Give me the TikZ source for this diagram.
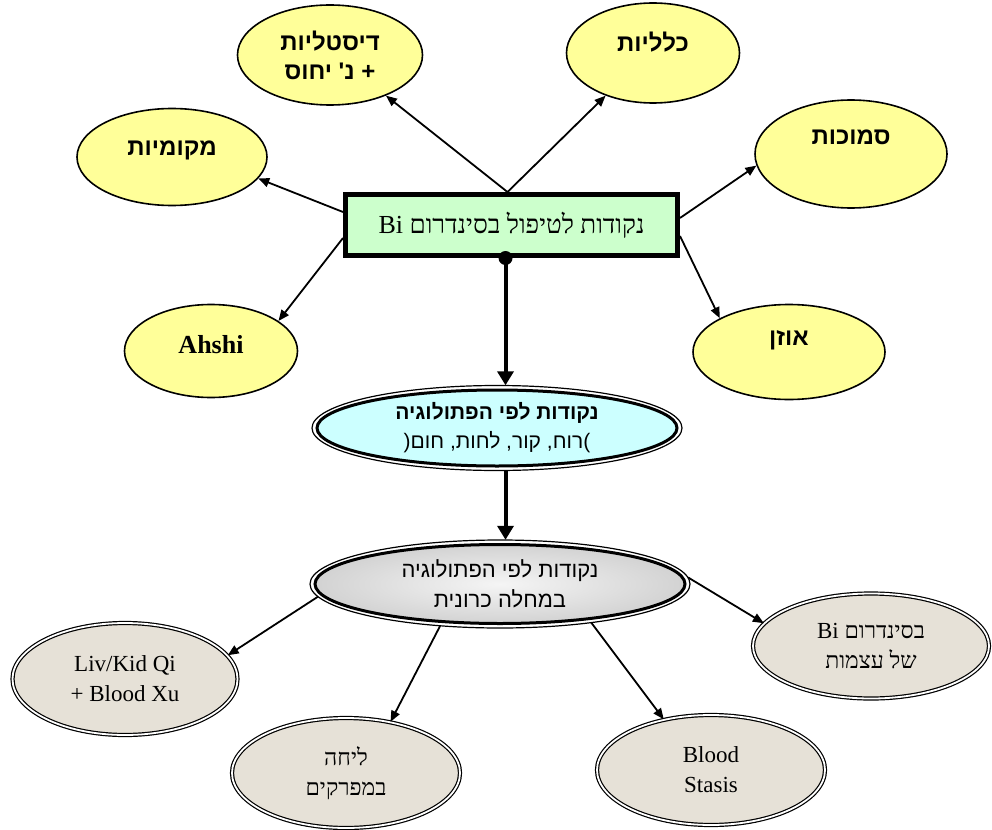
\documentclass[tikz,border=0pt]{standalone}
\usepackage{fontspec}
\setmainfont{Liberation Serif}
\newfontfamily\hebsans[Script=Hebrew]{Liberation Sans}
\newfontfamily\hebser[Script=Hebrew]{Liberation Serif}
\TeXXeTstate=1
\usetikzlibrary{arrows.meta,shapes.geometric,calc,backgrounds}
\definecolor{yel}{HTML}{FFFF99}
\definecolor{grn}{HTML}{CCFFCC}
\definecolor{cyn}{HTML}{CCFFFF}
\definecolor{bge}{HTML}{E6E1D7}
\tikzset{
 ybub/.style={ellipse, draw, line width=1.6pt, fill=yel, inner sep=0pt},
 ytext/.style={font=\hebsans\bfseries\fontsize{24}{29}\selectfont, align=center},
 beige/.style={ellipse, draw, line width=1.2pt, double=white, double distance=1.8pt, fill=bge, inner sep=0pt, minimum width=226pt, minimum height=110pt, align=center, font=\hebser\fontsize{23}{30}\selectfont},
 bigell/.style={ellipse, inner sep=0pt, align=center},
 arr/.style={line width=1.8pt, -{Triangle[length=11pt,width=9pt]}},
 bigarr/.style={line width=4pt, -{Triangle[length=14pt,width=16pt]}},
}
\begin{document}
\begin{tikzpicture}[x=1pt,y=-1pt]
\useasboundingbox (0,0) rectangle (992,829);

% central box
\node[draw, line width=5pt, fill=grn, minimum width=332pt, minimum height=61pt, inner sep=0pt,
  font=\hebser\fontsize{26}{30}\selectfont] (bi) at (511.5,225)
  {\hbox{\beginR נקודות לטיפול בסינדרום \beginL Bi\endL\endR}};
\coordinate (dot) at ([xshift=-6pt]bi.south);
\fill (dot) circle [radius=7pt];

% yellow bubbles
\node[ybub, minimum width=185pt, minimum height=100pt,
  label={[ytext]center:{\hbox{\beginR דיסטליות\endR}\\\hbox{\beginR + נ' יחוס\endR}}}] (dist) at (330,55) {};
\node[ybub, minimum width=173pt, minimum height=100pt,
  label={[ytext, yshift=11pt]center:{\hbox{\beginR כלליות\endR}}}] (kl) at (653,53) {};
\node[ybub, minimum width=190pt, minimum height=97pt,
  label={[ytext, yshift=7pt]center:{\hbox{\beginR מקומיות\endR}}}] (mak) at (172,157) {};
\node[ybub, minimum width=192pt, minimum height=108pt,
  label={[ytext, yshift=17pt]center:{\hbox{\beginR סמוכות\endR}}}] (sam) at (851,154) {};
\node[ybub, minimum width=173pt, minimum height=93pt,
  label={[font=\bfseries\fontsize{26}{30}\selectfont, yshift=6pt]center:{Ahshi}}] (ahshi) at (211,351) {};
\node[ybub, minimum width=192pt, minimum height=95pt,
  label={[ytext, yshift=12pt]center:{\hbox{\beginR אוזן\endR}}}] (ozen) at (789,352) {};

% cyan ellipse
\node[bigell, minimum width=370pt, minimum height=85pt, font=\hebsans\fontsize{21}{29}\selectfont] (cyan) at (497,428)
  {\hbox{\bfseries\beginR נקודות לפי הפתולוגיה\endR}\\\hbox{(\hbox{\beginR רוח, קור, לחות, חום\endR})}};
% grey ellipse
\node[bigell, minimum width=380pt, minimum height=88pt, font=\hebsans\fontsize{22}{30}\selectfont] (grey) at (500,584)
  {\hbox{\beginR נקודות לפי הפתולוגיה\endR}\\\hbox{\beginR במחלה כרונית\endR}};
\begin{scope}[on background layer]
\draw[line width=1.2pt, fill=white] (cyan.center) ellipse [x radius=185pt, y radius=42.5pt];
\draw[line width=3pt, fill=cyn] (cyan.center) ellipse [x radius=180pt, y radius=38pt];
\draw[line width=1.2pt, fill=white] (grey.center) ellipse [x radius=190pt, y radius=44pt];
\shadedraw[line width=3pt, inner color=gray!8, outer color=gray!35] (grey.center) ellipse [x radius=185pt, y radius=39.5pt];
\end{scope}

% beige ellipses
\node[beige, minimum width=225pt, minimum height=112pt] (liv) at (125,679) {Liv/Kid Qi\\+ Blood Xu};
\node[beige, minimum width=228pt, minimum height=110pt] (lich) at (346,773) {\hbox{\beginR ליחה\endR}\\\hbox{\beginR במפרקים\endR}};
\node[beige, minimum width=228pt, minimum height=110pt] (blood) at (711,770) {Blood\\Stasis};
\node[beige, minimum width=236pt, minimum height=105pt] (bis) at (871,646)
  {\hbox{\beginR בסינדרום \beginL Bi\endL\endR}\\\hbox{\beginR של עצמות\endR}};

% arrows from box
\draw[arr] ([xshift=-4pt]bi.north) -- (dist.324);
\draw[arr] ([xshift=-4pt]bi.north) -- (kl.222);
\draw[arr] ([yshift=13pt]bi.west) -- (mak.346);
\draw[arr] ([yshift=-13pt]bi.west) -- (ahshi.24);
\draw[arr] ([yshift=7pt]bi.east) -- (sam.187);
\draw[arr] ([yshift=-11pt]bi.east) -- (ozen.154);

% vertical arrows
\draw[bigarr] (dot) -- (dot |- cyan.north);
\draw[bigarr] (dot |- cyan.south) -- (dot |- grey.north);

% arrows from grey
\draw[arr] (grey.184) -- (liv.13);
\draw[arr] (grey.215) -- (lich.49);
\draw[arr] (grey.337) -- (blood.133);
\draw[arr] (grey.2) -- (bis.168);
\end{tikzpicture}
\end{document}
